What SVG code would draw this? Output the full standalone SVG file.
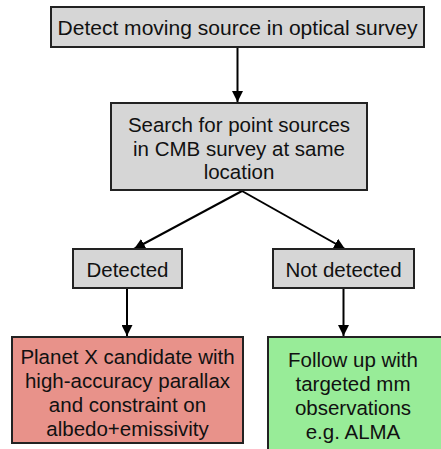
<svg xmlns="http://www.w3.org/2000/svg" width="441" height="449" viewBox="0 0 441 449">
<style>
.box{stroke:#222;stroke-width:2}
.g{fill:#d6d6d6}
.r{fill:#e8928a}
.gr{fill:#98ec98}
text{font-family:"Liberation Sans",Arial,sans-serif;font-size:20.5px;fill:#111;text-anchor:middle}
.c{stroke:#000;stroke-width:2;fill:none}
</style>
<defs>
<marker id="ah" viewBox="0 0 10 10" refX="10" refY="5" markerWidth="5.5" markerHeight="5.5" orient="auto" markerUnits="strokeWidth">
<path d="M0,0 L10,5 L0,10 Z" fill="#000"/>
</marker>
</defs>
<rect width="441" height="449" fill="#fff"/>
<g id="connectors">
<line class="c" x1="237.5" y1="48" x2="237.5" y2="102" marker-end="url(#ah)"/>
<line class="c" x1="242" y1="191" x2="134" y2="249" marker-end="url(#ah)"/>
<line class="c" x1="242" y1="191" x2="345" y2="249" marker-end="url(#ah)"/>
<line class="c" x1="127" y1="289" x2="127" y2="336" marker-end="url(#ah)"/>
<line class="c" x1="343.5" y1="289" x2="343.5" y2="336" marker-end="url(#ah)"/>
</g>
<g id="n1">
<rect class="box g" x="51" y="7" width="373" height="40"/>
<text x="237.5" y="35" textLength="360" lengthAdjust="spacingAndGlyphs">Detect moving source in optical survey</text>
</g>
<g id="n2">
<rect class="box g" x="111" y="103" width="256" height="87"/>
<text x="239" y="132">Search for point sources</text>
<text x="239" y="156">in CMB survey at same</text>
<text x="239" y="179">location</text>
</g>
<g id="n3">
<rect class="box g" x="73" y="249" width="109" height="39"/>
<text x="127.5" y="277">Detected</text>
</g>
<g id="n4">
<rect class="box g" x="273" y="249" width="141" height="39"/>
<text x="343.5" y="277">Not detected</text>
</g>
<g id="n5">
<rect class="box r" x="12" y="337" width="231" height="106"/>
<text x="127.5" y="364">Planet X candidate with</text>
<text x="127.5" y="388">high-accuracy parallax</text>
<text x="127.5" y="412">and constraint on</text>
<text x="127.5" y="436">albedo+emissivity</text>
</g>
<g id="n6">
<rect class="box gr" x="268" y="337" width="180" height="120"/>
<text x="353" y="367">Follow up with</text>
<text x="353" y="391">targeted mm</text>
<text x="353" y="415">observations</text>
<text x="353" y="439">e.g. ALMA</text>
</g>
</svg>
